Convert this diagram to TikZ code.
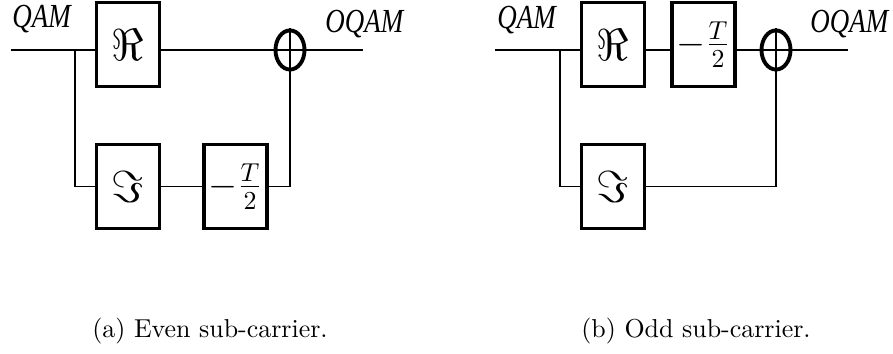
\documentclass[tikz,border=0pt]{standalone}
\usepackage{fontspec}
\newfontfamily\qamfont{Liberation Serif}
\usetikzlibrary{shapes.geometric}

\begin{document}
\begin{tikzpicture}[x=0.386pt,y=-0.386pt,
    blk/.style={draw,line width=1.5pt,inner sep=0pt,minimum width=24.3pt,minimum height=32.4pt},
    sym/.style={font=\fontsize{19}{22}\selectfont},
    dly/.style={font=\fontsize{14}{16}\selectfont},
    sum/.style={draw,ellipse,line width=1.5pt,inner sep=0pt,minimum width=11.2pt,minimum height=15.1pt},
    wire/.style={line width=0.45pt},
    sig/.style={font=\qamfont\itshape\fontsize{13}{15}\selectfont,inner sep=0pt,anchor=base west,xscale=0.8}]
  \useasboundingbox (0,0) rectangle (893,354);

  % (a) even sub-carrier
  \node[blk,sym] (reA) at (128,44.5) {$\Re$};
  \node[blk,sym] (imA) at (128,186.5) {$\Im$};
  \node[blk,dly] (dlA) at (235.5,186.5) {$-\frac{T}{2}$};
  \node[sum] (smA) at (290,50) {};
  \coordinate (inA) at (11,50);
  \coordinate (brA) at (75,50);
  \coordinate (outA) at (363,50);

  \draw[wire] (inA) -- (reA.west |- inA);
  \draw[wire] (reA.east |- inA) -- (smA.west) -- (smA.east) -- (outA);
  \draw[wire] (smA.north) -- (smA.south);
  \draw[wire] (brA) |- (imA.west);
  \draw[wire] (imA) -- (dlA);
  \draw[wire] (dlA.east) -| (smA.south);

  \node[sig] (qamA) at (12,28) {QAM};
  \node[sig] (oqamA) at (325,33) {OQAM};
  \node[anchor=base] (capA) at (210,338) {(a) Even sub-carrier.};

  % (b) odd sub-carrier
  \node[blk,sym] (reB) at (613,44.5) {$\Re$};
  \node[blk,dly] (dlB) at (703.5,44.5) {$-\frac{T}{2}$};
  \node[blk,sym] (imB) at (613,186.5) {$\Im$};
  \node[sum] (smB) at (776,50) {};
  \coordinate (inB) at (495,50);
  \coordinate (brB) at (560,50);
  \coordinate (outB) at (848,50);

  \draw[wire] (inB) -- (reB.west |- inB);
  \draw[wire] (reB.east |- inB) -- (dlB.west |- inB);
  \draw[wire] (dlB.east |- inB) -- (smB.west) -- (smB.east) -- (outB);
  \draw[wire] (smB.north) -- (smB.south);
  \draw[wire] (brB) |- (imB.west);
  \draw[wire] (imB.east) -| (smB.south);

  \node[sig] (qamB) at (497,29) {QAM};
  \node[sig] (oqamB) at (810,33) {OQAM};
  \node[anchor=base] (capB) at (696,338) {(b) Odd sub-carrier.};
\end{tikzpicture}
\end{document}
